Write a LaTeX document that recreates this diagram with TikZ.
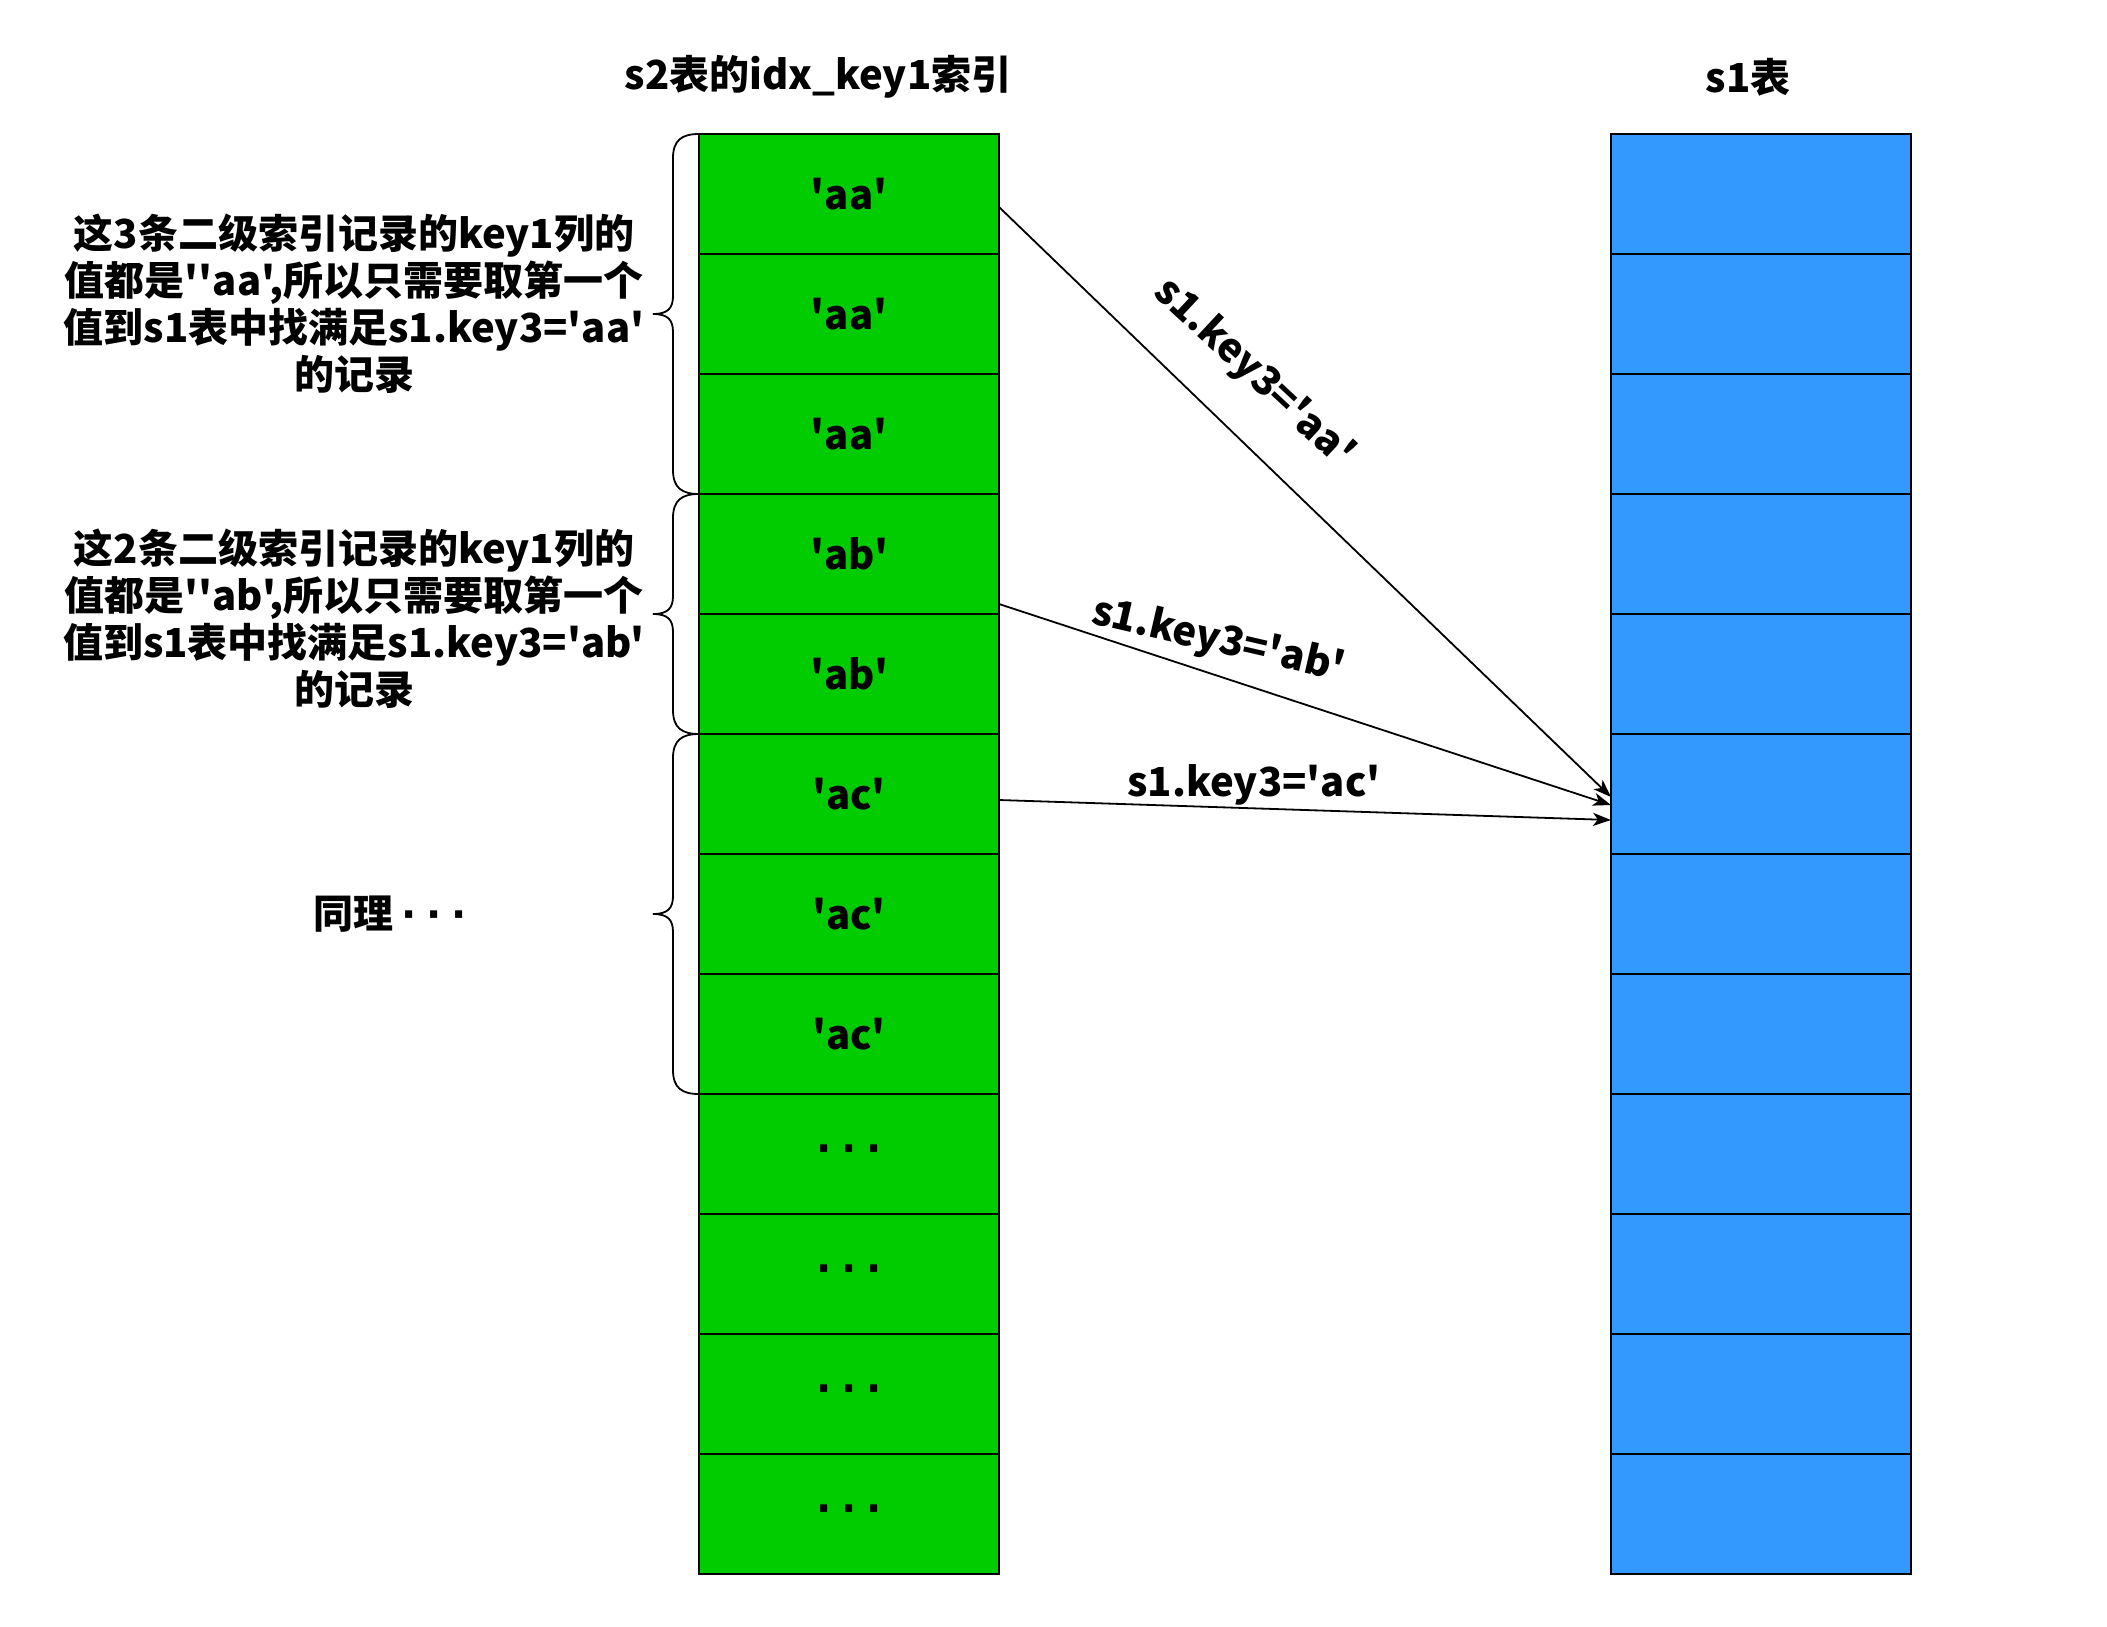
\documentclass[tikz,border=0pt]{standalone}
\usepackage{fontspec}
\newfontfamily\cnfont{Noto Sans CJK SC}
\newfontfamily\dotfont{DejaVu Sans}
\newcommand\celldots{{\dotfont\bfseries\fontsize{40}{48}\selectfont ·\hspace{10pt}·\hspace{10pt}·}}
\usetikzlibrary{arrows.meta,calc}
\definecolor{gfill}{HTML}{00CC00}
\definecolor{bfill}{HTML}{3399FF}
\begin{document}
\begin{tikzpicture}[x=1pt,y=-1pt,
  cell/.style={draw=black, line width=2pt, minimum width=300pt, minimum height=120pt, inner sep=0pt, outer sep=0pt, font=\cnfont\bfseries\fontsize{40}{48}\selectfont},
  gcell/.style={cell, fill=gfill},
  bcell/.style={cell, fill=bfill},
  txt/.style={font=\cnfont\bfseries\fontsize{40}{47}\selectfont, align=center, inner sep=0pt},
  link/.style={draw=black, line width=1.8pt, -{Stealth[length=18pt,width=13pt,inset=5pt]}},
  bracestyle/.style={draw=black, line width=1.8pt}]
\useasboundingbox (0,0) rectangle (2107,1626);
% titles
\node[txt] (t1) at (818,77) {s2表的idx\_key1索引};
\node[txt] (t2) at (1748,77) {s1表};
% s2 index column
\node[gcell] (g1) at (849,194) {'aa'};
\node[gcell] (g2) at (849,314) {'aa'};
\node[gcell] (g3) at (849,434) {'aa'};
\node[gcell] (g4) at (849,554) {'ab'};
\node[gcell] (g5) at (849,674) {'ab'};
\node[gcell] (g6) at (849,794) {'ac'};
\node[gcell] (g7) at (849,914) {'ac'};
\node[gcell] (g8) at (849,1034) {'ac'};
\node[gcell] (g9) at (849,1154) {\celldots};
\node[gcell] (g10) at (849,1274) {\celldots};
\node[gcell] (g11) at (849,1394) {\celldots};
\node[gcell] (g12) at (849,1514) {\celldots};
% s1 table column
\foreach \i in {1,...,12} {
  \node[bcell] (b\i) at (1761,{74+120*\i}) {};
}
% braces
\foreach \ta/\tb in {134/494,494/734,734/1094} {
  \pgfmathsetmacro{\tm}{(\ta+\tb)/2}
  \draw[bracestyle] (699,\ta) .. controls (682,\ta) and (673,{\ta+6}) .. (673,{\ta+24})
    -- (673,{\tm-18}) .. controls (673,{\tm-6}) and (668,\tm) .. (653,\tm)
    .. controls (668,\tm) and (673,{\tm+6}) .. (673,{\tm+18})
    -- (673,{\tb-24}) .. controls (673,{\tb-6}) and (682,\tb) .. (699,\tb);
}
% annotations
\node[txt] (n1) at (354,304) {这3条二级索引记录的key1列的\\值都是''aa',所以只需要取第一个\\值到s1表中找满足s1.key3='aa'\\的记录};
\node[txt] (n2) at (354,619) {这2条二级索引记录的key1列的\\值都是''ab',所以只需要取第一个\\值到s1表中找满足s1.key3='ab'\\的记录};
\node[txt] (n3) at (390,914) {同理\hspace{8pt}\celldots};
% arrows
\draw[link] ([yshift=-13pt]g1.east) -- ([yshift=-3pt]b6.west);
\draw[link] ([yshift=-50pt]g4.east) -- ([yshift=-11pt]b6.west);
\draw[link] ([yshift=-6pt]g6.east) -- ([yshift=-26pt]b6.west);
% arrow labels
\node[txt, rotate=-43] (l1) at (1254,373) {s1.key3='aa'};
\node[txt, rotate=-13] (l2) at (1218,641) {s1.key3='ab'};
\node[txt] (l3) at (1254,785) {s1.key3='ac'};
\end{tikzpicture}
\end{document}
